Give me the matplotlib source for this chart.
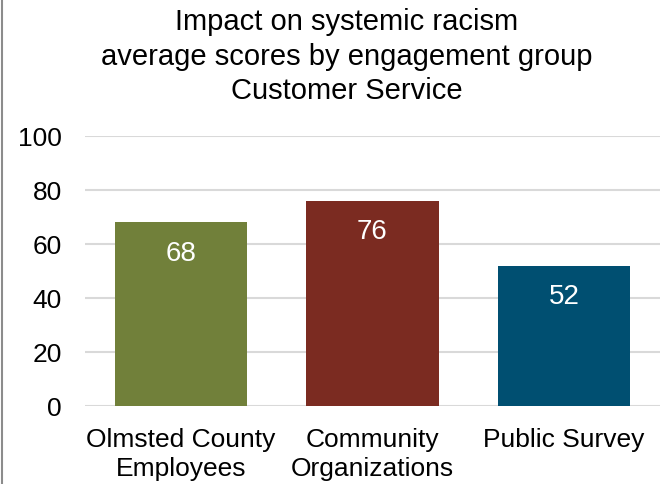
import matplotlib.pyplot as plt
from matplotlib.lines import Line2D

plt.rcParams['font.family'] = ['Liberation Sans', 'DejaVu Sans']

groups = ['Olmsted County\nEmployees', 'Community\nOrganizations', 'Public Survey']
scores = [68, 76, 52]
colors = ['#71803A', '#7B2B21', '#004F71']
title = 'Impact on systemic racism\naverage scores by engagement group\nCustomer Service'

fig = plt.figure(figsize=(6.61, 4.85), dpi=100)
ax = fig.add_axes([85/661, (485-407)/485, 575/661, 270/485])

x = range(len(scores))
bars = ax.bar(x, scores, width=0.69, color=colors, zorder=3)
for b, v in zip(bars, scores):
    ax.text(b.get_x() + b.get_width()/2, v - 11.2, str(v), ha='center', va='center',
            color='white', fontsize=20)

ax.set_xlim(-0.5, 2.5)
ax.set_ylim(0, 100)
ax.set_yticks([0, 20, 40, 60, 80, 100])
ax.set_xticks(list(x))
ax.set_xticklabels(groups, fontsize=19, linespacing=1.25)
ax.tick_params(axis='y', labelsize=19, length=0, pad=16.5)
ax.tick_params(axis='x', length=0, pad=15)
ax.grid(axis='y', color='#d9d9d9', linewidth=1.5, zorder=0)
for s in ax.spines.values():
    s.set_visible(False)

fig.text(0.525, 1 - 8/485, title, ha='center', va='top', fontsize=21, linespacing=1.3)
fig.add_artist(Line2D([1.5/661, 1.5/661], [0, 1], color='#8c8c8c', linewidth=1.5,
                      transform=fig.transFigure))

fig.savefig('out.png', dpi=100)
